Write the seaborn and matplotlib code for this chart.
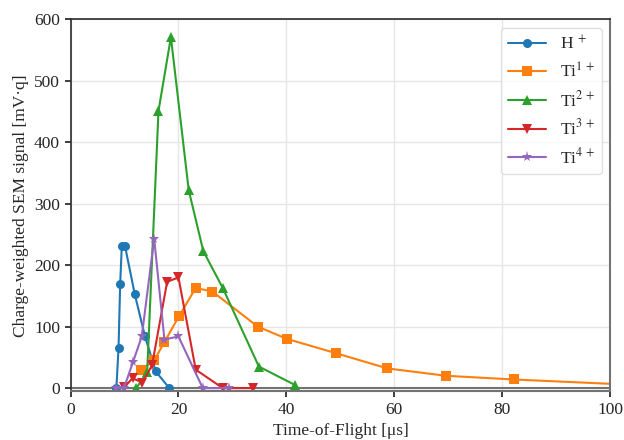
import matplotlib
matplotlib.use("Agg")
import matplotlib.pyplot as plt
import pandas as pd
import seaborn as sns

# time-of-flight [us] and charge-weighted signal [mV*q] per ion species
h1_tof = [8.5, 8.9, 9.2, 9.5, 10.1, 11.9, 13.8, 15.8, 18.3]
h1_sig = [0, 66, 169, 231, 231, 153, 84, 27, 0]

ti1_tof = [13.0, 15.5, 17.4, 20.1, 23.2, 26.3, 34.7, 40.1, 49.1, 58.7, 69.6, 82.1, 110.0]
ti1_sig = [30, 45, 75, 117, 163, 157, 100, 80, 57, 32, 20, 14, 3]

ti2_tof = [12.2, 14.2, 16.3, 18.6, 21.9, 24.6, 28.2, 34.9, 41.6]
ti2_sig = [0, 26, 451, 571, 322, 223, 163, 35, 5]

ti3_tof = [9.9, 11.5, 13.3, 15.1, 17.9, 20.0, 23.2, 28.2, 33.8]
ti3_sig = [1, 16, 9, 37, 173, 180, 30, 0, 0]

ti4_tof = [8.5, 9.9, 11.6, 13.2, 15.5, 17.4, 20.0, 24.5, 29.4]
ti4_sig = [0, 0, 43, 84, 243, 79, 84, 0, 0]

labels = ["H$^{\\ +}$", "Ti$^{1\\,+}$", "Ti$^{2\\,+}$", "Ti$^{3\\,+}$", "Ti$^{4\\,+}$"]
markers = ["o", "s", "^", "v", "*"]

sns.set_theme(style="whitegrid", palette="tab10", rc={
    "axes.edgecolor": "0.2",
    "grid.color": "0.9",
    "xtick.bottom": True,
    "ytick.left": True,
    "xtick.major.size": 4,
    "ytick.major.size": 4,
    "xtick.color": "0.15",
    "ytick.color": "0.15",
})
plt.rcParams["font.family"] = ["Liberation Serif", "DejaVu Serif"]
plt.rcParams["mathtext.fontset"] = "stix"

series = [
    (h1_tof, h1_sig),
    (ti1_tof, ti1_sig),
    (ti2_tof, ti2_sig),
    (ti3_tof, ti3_sig),
    (ti4_tof, ti4_sig),
]
colors = sns.color_palette("tab10", 5)

fig = plt.figure(figsize=(6.24, 4.4), dpi=100)
ax = fig.add_axes([0.113, 0.111, 0.865, 0.845])

for (tof, sig), label, marker, color in zip(series, labels, markers, colors):
    df = pd.DataFrame({"tof": tof, "sig": sig})
    sns.lineplot(data=df, x="tof", y="sig", ax=ax, marker=marker, color=color,
                 label=label, linewidth=1.5, markersize=8 if marker == "*" else 6.5,
                 markeredgewidth=0, sort=False)

ax.axhline(0, color="0.45", linewidth=1.5, zorder=1)
ax.set_xlim(0, 100)
ax.set_ylim(-5, 600)
ax.set_xlabel("Time-of-Flight [μs]", fontsize=12.5, color="0.15")
ax.set_ylabel("Charge-weighted SEM signal [mV·q]", fontsize=12.5, color="0.15")
ax.tick_params(labelsize=12.5)
for side in ["bottom", "right"]:
    ax.spines[side].set_color("0.45")
    ax.spines[side].set_linewidth(1.5)
ax.legend(loc="upper right", fontsize=12.5, frameon=True, framealpha=0.8,
          edgecolor="0.85", handlelength=2.2)

fig.savefig("out.png", dpi=100)
plt.close(fig)
